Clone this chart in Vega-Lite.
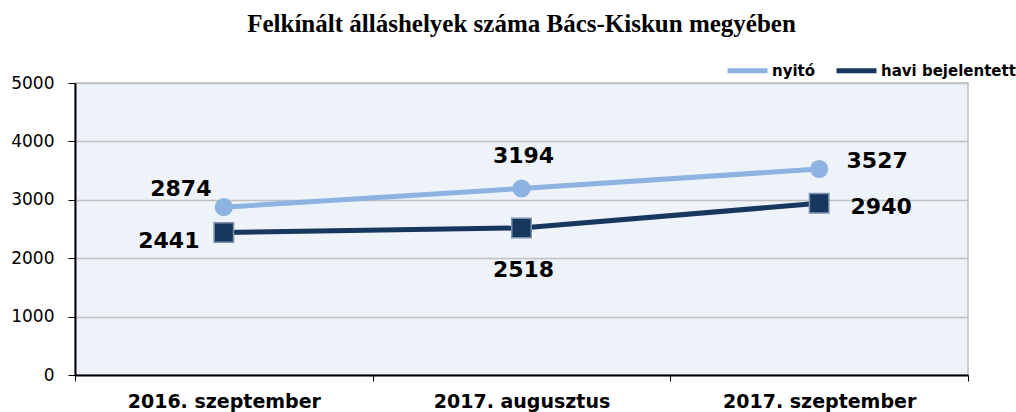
{
  "$schema": "https://vega.github.io/schema/vega-lite/v6.json",
  "width": 893,
  "height": 292,
  "autosize": {"type": "none"},
  "padding": {"left": 75, "top": 83, "right": 48, "bottom": 37},
  "background": "white",
  "title": {
    "text": "Felkínált álláshelyek száma Bács-Kiskun megyében",
    "font": "Liberation Serif",
    "fontSize": 25,
    "fontWeight": "bold",
    "color": "black",
    "anchor": "middle",
    "offset": 11
  },
  "config": {
    "view": {"fill": "#EEF3FA", "stroke": "#BFBFBF", "strokeWidth": 1.5}
  },
  "data": {
    "values": [
      {"period": "2016. szeptember", "series": "nyitó", "value": 2874},
      {"period": "2017. augusztus", "series": "nyitó", "value": 3194},
      {"period": "2017. szeptember", "series": "nyitó", "value": 3527},
      {"period": "2016. szeptember", "series": "havi bejelentett", "value": 2441},
      {"period": "2017. augusztus", "series": "havi bejelentett", "value": 2518},
      {"period": "2017. szeptember", "series": "havi bejelentett", "value": 2940}
    ]
  },
  "encoding": {
    "x": {
      "field": "period",
      "type": "nominal",
      "sort": null,
      "scale": {"paddingInner": 0, "paddingOuter": 0},
      "axis": {
        "title": null,
        "labelAngle": 0,
        "labelFont": "DejaVu Sans",
        "labelFontWeight": "bold",
        "labelFontSize": 19,
        "labelLimit": 0,
        "labelColor": "black",
        "labelPadding": 11,
        "domainColor": "black",
        "domainWidth": 2,
        "tickColor": "black",
        "tickSize": 6,
        "tickBand": "extent",
        "grid": false
      }
    },
    "y": {
      "field": "value",
      "type": "quantitative",
      "scale": {"domain": [0, 5000], "nice": false},
      "axis": {
        "title": null,
        "values": [0, 1000, 2000, 3000, 4000, 5000],
        "format": "d",
        "labelFont": "DejaVu Sans",
        "labelFontSize": 17,
        "labelColor": "black",
        "labelPadding": 14,
        "domainColor": "black",
        "domainWidth": 2,
        "tickColor": "black",
        "tickSize": 7,
        "gridColor": "#C0C0C0",
        "gridWidth": 1.5
      }
    }
  },
  "layer": [
    {
      "mark": {"type": "line", "strokeWidth": 5},
      "encoding": {
        "color": {
          "field": "series",
          "type": "nominal",
          "scale": {"domain": ["nyitó", "havi bejelentett"], "range": ["#8DB3E2", "#17375E"]},
          "legend": {
            "title": null,
            "orient": "none",
            "legendX": 650,
            "legendY": -35,
            "direction": "horizontal",
            "symbolType": "stroke",
            "symbolStrokeWidth": 5,
            "symbolSize": 1600,
            "labelFont": "DejaVu Sans",
            "labelFontWeight": "bold",
            "labelFontSize": 15,
            "labelColor": "black",
            "columnPadding": 10,
            "labelOffset": 2
          }
        }
      }
    },
    {
      "transform": [{"filter": "datum.series === 'nyitó'"}],
      "mark": {"type": "point", "shape": "circle", "filled": true, "size": 330, "color": "#8DB3E2", "opacity": 1}
    },
    {
      "transform": [{"filter": "datum.series === 'havi bejelentett'"}],
      "mark": {"type": "point", "shape": "square", "filled": true, "size": 380, "color": "#17375E", "stroke": "#7F93AE", "strokeWidth": 1.5, "opacity": 1}
    },
    {
      "transform": [{"filter": "datum.series === 'nyitó' && datum.period === '2016. szeptember'"}],
      "mark": {"type": "text", "dx": -43, "dy": -18, "font": "DejaVu Sans", "fontWeight": "bold", "fontSize": 22, "color": "black"},
      "encoding": {"text": {"field": "value"}}
    },
    {
      "transform": [{"filter": "datum.series === 'nyitó' && datum.period === '2017. augusztus'"}],
      "mark": {"type": "text", "dx": 2, "dy": -32, "font": "DejaVu Sans", "fontWeight": "bold", "fontSize": 22, "color": "black"},
      "encoding": {"text": {"field": "value"}}
    },
    {
      "transform": [{"filter": "datum.series === 'nyitó' && datum.period === '2017. szeptember'"}],
      "mark": {"type": "text", "dx": 58, "dy": -8, "font": "DejaVu Sans", "fontWeight": "bold", "fontSize": 22, "color": "black"},
      "encoding": {"text": {"field": "value"}}
    },
    {
      "transform": [{"filter": "datum.series === 'havi bejelentett' && datum.period === '2016. szeptember'"}],
      "mark": {"type": "text", "dx": -55, "dy": 9, "font": "DejaVu Sans", "fontWeight": "bold", "fontSize": 22, "color": "black"},
      "encoding": {"text": {"field": "value"}}
    },
    {
      "transform": [{"filter": "datum.series === 'havi bejelentett' && datum.period === '2017. augusztus'"}],
      "mark": {"type": "text", "dx": 2, "dy": 42, "font": "DejaVu Sans", "fontWeight": "bold", "fontSize": 22, "color": "black"},
      "encoding": {"text": {"field": "value"}}
    },
    {
      "transform": [{"filter": "datum.series === 'havi bejelentett' && datum.period === '2017. szeptember'"}],
      "mark": {"type": "text", "dx": 62, "dy": 4, "font": "DejaVu Sans", "fontWeight": "bold", "fontSize": 22, "color": "black"},
      "encoding": {"text": {"field": "value"}}
    }
  ]
}
